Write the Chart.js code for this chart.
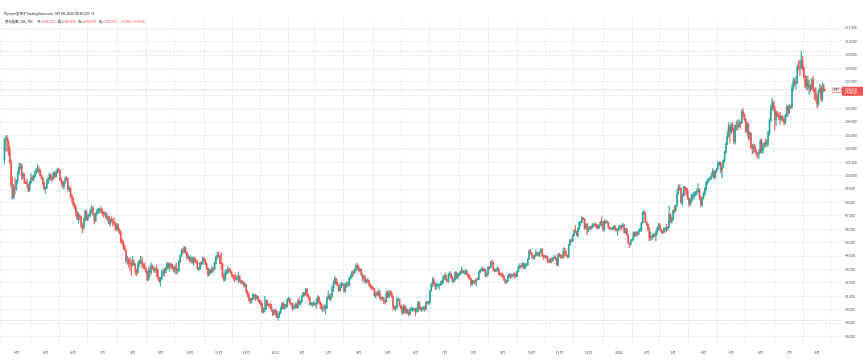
<!DOCTYPE html>
<html>
<head>
<meta charset="utf-8">
<script src="https://cdn.jsdelivr.net/npm/chart.js@4.4.1/dist/chart.umd.min.js"></script>
<style>
  html, body { margin: 0; padding: 0; background: #ffffff; }
  #wrap { position: relative; width: 863px; height: 360px; }
  canvas { display: block; }
</style>
</head>
<body>
<div id="wrap"><canvas id="c" width="863" height="360"></canvas></div>
<script>
// ---------------- DATA (US Dollar Index, daily) ----------------
const firstDay = '2020-03-19';
const lastDay = '2022-08-09';
const holidays = ['2020-12-25', '2021-01-01'];
const firstOpen = 101.20;

const closes = [
  // 2020-03
  102.75,102.82,102.50,101.95,101.04,99.35,98.38,99.06,99.05,
  // 2020-04
  99.62,100.20,100.62,100.80,99.96,100.10,99.55,99.50,99.36,98.87,99.48,99.80,99.74,99.92,100.25,100.40,100.48,100.38,100.00,99.84,99.45,99.02,
  // 2020-05
  99.07,99.48,99.76,100.08,99.77,99.74,100.23,99.92,100.23,100.43,100.40,99.68,99.57,99.17,99.48,99.80,99.76,98.95,99.05,98.38,98.34,
  // 2020-06
  97.87,97.68,97.28,96.74,96.94,96.93,96.27,96.09,96.71,97.33,96.72,97.04,97.07,97.39,97.60,97.11,96.64,97.17,97.39,97.43,97.51,97.40,
  // 2020-07
  97.18,97.17,97.21,96.83,96.93,96.44,96.76,96.65,96.48,96.46,95.99,96.32,95.92,95.78,95.10,94.99,94.70,94.44,93.66,93.70,93.43,93.41,93.34,
  // 2020-08
  93.54,93.38,92.87,92.78,93.42,93.64,93.64,93.43,93.37,93.10,92.87,92.25,92.86,92.79,93.25,93.14,92.95,93.01,92.99,92.37,92.14,
  // 2020-09
  92.30,92.72,92.85,92.80,93.08,93.43,93.23,93.37,93.33,93.06,93.04,93.20,92.91,92.94,93.61,94.05,94.41,94.35,94.64,94.29,93.87,93.89,
  // 2020-10
  93.71,93.85,93.51,93.85,93.61,93.58,93.06,93.06,93.52,93.41,93.86,93.69,93.41,93.07,92.60,92.95,92.78,93.05,93.04,93.43,93.92,94.04,
  // 2020-11
  94.03,93.50,93.43,92.52,92.23,92.73,92.75,93.00,92.97,92.76,92.56,92.43,92.31,92.30,92.39,92.50,92.17,92.01,92.05,91.80,91.87,
  // 2020-12
  91.33,91.14,90.71,90.70,90.79,91.09,91.09,90.84,90.97,90.71,90.53,90.48,89.85,90.02,90.05,90.68,90.39,90.34,90.33,89.96,89.67,89.94,
  // 2021-01
  89.88,89.43,89.53,89.83,90.10,90.47,90.11,90.35,90.23,90.77,90.79,90.50,90.48,90.09,90.23,90.37,90.16,90.63,90.44,90.58,
  // 2021-02
  91.03,91.24,91.13,91.53,91.04,90.93,90.41,90.43,90.43,90.48,90.37,90.48,90.94,90.59,90.36,90.12,90.15,90.14,90.14,90.88,
  // 2021-03
  91.02,90.82,90.97,91.64,91.98,92.34,91.95,91.82,91.42,91.67,91.84,91.88,91.40,91.89,91.92,91.85,92.37,92.52,92.80,92.76,92.93,93.29,93.23,
  // 2021-04
  92.93,93.03,92.62,92.33,92.46,92.05,92.16,92.14,91.85,91.70,91.66,91.56,91.07,91.24,91.15,91.32,90.86,90.83,90.89,90.63,90.59,91.28,
  // 2021-05
  90.96,91.28,91.27,90.99,90.22,90.10,90.16,90.70,90.76,90.31,90.15,89.83,90.28,89.79,90.01,89.80,89.66,90.00,90.01,90.03,90.03,
  // 2021-06
  89.89,89.91,90.51,90.14,90.00,90.08,90.10,90.07,90.55,90.53,90.54,91.40,91.91,92.23,91.89,91.75,91.81,91.82,91.85,91.89,92.06,92.44,
  // 2021-07
  92.57,92.23,92.17,92.56,92.67,92.42,92.12,92.24,92.77,92.42,92.65,92.68,92.83,92.92,92.78,92.80,92.89,92.64,92.46,92.30,91.88,92.17,
  // 2021-08
  92.07,92.04,92.28,92.26,92.79,92.94,93.05,92.92,92.99,92.52,92.62,93.16,93.14,93.58,93.49,92.95,92.87,92.98,93.06,92.67,92.64,92.63,
  // 2021-09
  92.50,92.24,92.03,92.15,92.52,92.64,92.49,92.58,92.64,92.63,92.50,92.86,93.19,93.26,93.21,93.47,93.08,93.33,93.36,93.78,94.37,94.23,
  // 2021-10
  94.04,93.83,94.00,94.20,94.21,94.08,94.31,94.52,94.05,93.95,93.96,93.95,93.58,93.56,93.75,93.64,93.86,93.93,93.80,93.33,94.12,
  // 2021-11
  94.06,93.91,93.87,94.35,94.32,94.05,93.96,94.84,95.17,95.13,95.53,95.89,95.83,95.54,96.04,96.48,96.52,96.86,96.77,96.09,96.36,95.99,
  // 2021-12
  96.03,96.18,96.14,96.28,96.36,96.33,96.24,96.10,96.32,96.56,96.54,96.00,96.61,96.53,96.53,96.10,96.06,96.00,96.07,96.20,95.96,95.94,95.97,
  // 2022-01
  96.21,96.26,96.17,96.32,95.74,95.99,95.60,94.96,94.85,95.17,95.26,95.75,95.53,95.78,95.64,95.92,95.92,96.48,97.25,97.27,96.54,
  // 2022-02
  96.37,96.03,95.38,95.48,95.44,95.63,95.51,95.81,96.07,96.32,96.02,95.83,95.79,96.04,96.05,96.02,96.18,97.09,96.61,96.71,
  // 2022-03
  97.41,97.38,97.78,98.67,99.07,99.05,97.98,98.51,99.13,99.02,98.87,98.32,97.89,98.23,98.48,98.48,98.64,98.79,98.81,98.98,98.40,97.83,98.31,
  // 2022-04
  98.62,99.01,99.47,99.63,99.77,99.83,99.94,100.30,99.87,100.34,100.50,100.95,101.01,100.40,100.63,101.12,101.75,102.34,102.97,103.63,103.21,
  // 2022-05
  103.76,103.45,102.55,103.75,103.66,103.66,103.92,103.91,104.76,104.56,104.20,103.29,103.84,102.86,103.15,102.08,102.06,102.17,101.82,101.67,101.62,101.76,
  // 2022-06
  102.59,101.86,102.15,102.41,102.33,102.56,103.25,104.15,105.06,105.51,105.02,104.18,104.67,104.52,104.43,104.19,104.40,104.21,103.94,104.50,105.10,104.69,
  // 2022-07
  105.14,105.11,106.51,107.04,106.87,106.91,108.08,108.07,108.03,108.58,108.08,107.37,106.69,107.09,106.62,106.73,106.48,107.17,106.44,106.25,105.91,
  // 2022-08
  105.36,106.23,106.51,105.70,106.61,106.377,106.372
];

const highs = [
  102.76,102.99,102.99,102.70,102.20,101.20,99.90,99.35,99.80,
  99.70,100.35,100.93,100.94,100.84,100.25,100.16,99.62,99.72,99.40,99.58,100.16,100.01,100.07,100.39,100.56,100.83,100.66,100.50,100.08,99.87,99.55,
  99.18,99.73,99.90,100.20,100.12,99.95,100.28,100.29,100.38,100.56,100.55,100.44,99.80,99.61,99.55,99.92,99.93,99.83,99.25,99.10,98.60,
  98.38,98.01,97.73,97.35,97.21,97.13,96.98,96.44,96.88,97.45,97.43,97.09,97.18,97.49,97.80,97.65,97.18,97.24,97.50,97.61,97.58,97.70,
  97.55,97.33,97.32,97.26,97.06,96.97,96.79,96.94,96.78,96.87,96.51,96.43,96.43,96.08,95.90,95.32,95.15,94.83,94.47,94.00,93.86,93.91,93.73,
  93.99,93.72,93.45,93.02,93.57,93.71,93.99,93.90,93.50,93.50,93.14,92.91,93.14,93.18,93.50,93.35,93.17,93.12,93.33,93.01,92.48,
  92.43,92.95,93.04,93.10,93.20,93.54,93.51,93.45,93.49,93.40,93.20,93.30,93.48,93.05,93.68,94.11,94.54,94.58,94.74,94.64,94.30,94.15,
  93.95,94.04,93.93,93.94,93.91,93.76,93.66,93.17,93.56,93.57,93.94,93.90,93.78,93.50,93.09,93.05,93.02,93.26,93.15,93.59,94.04,94.30,
  94.30,94.05,94.30,93.48,92.70,92.95,93.00,93.21,93.10,93.03,92.87,92.63,92.60,92.69,92.51,92.80,92.56,92.24,92.18,92.10,92.00,
  91.92,91.45,91.20,90.85,90.90,91.20,91.16,91.14,91.08,91.02,90.75,90.72,90.52,90.17,91.01,90.74,90.73,90.43,90.50,90.40,90.00,90.02,
  90.05,89.94,89.69,89.89,90.22,90.51,90.59,90.41,90.43,90.82,90.95,90.81,90.56,90.48,90.28,90.49,90.47,90.77,90.89,90.69,
  91.08,91.31,91.28,91.60,91.60,91.18,90.95,90.57,90.52,90.60,90.51,90.83,91.05,90.98,90.62,90.45,90.23,90.39,90.35,90.94,
  91.40,91.15,91.23,91.78,92.17,92.51,92.32,92.14,91.84,91.97,92.05,92.01,91.95,91.95,92.06,92.11,92.43,92.60,92.87,92.96,93.07,93.44,93.44,
  93.28,93.07,93.03,92.68,92.55,92.56,92.27,92.34,92.20,91.92,91.81,91.69,91.58,91.30,91.38,91.45,91.44,91.06,90.96,90.92,90.72,91.35,
  91.43,91.43,91.44,91.35,91.08,90.28,90.31,90.90,90.91,90.80,90.34,90.21,90.39,90.32,90.19,90.04,89.99,90.14,90.19,90.16,90.07,
  90.13,90.18,90.63,90.62,90.23,90.16,90.26,90.28,90.60,90.64,90.64,91.44,91.95,92.41,92.37,92.04,91.99,91.92,91.93,92.13,92.21,92.47,
  92.61,92.74,92.29,92.73,92.84,92.76,92.49,92.33,92.84,92.83,92.70,92.78,92.90,93.19,92.95,92.91,93.05,92.91,92.70,92.62,92.35,92.21,
  92.22,92.16,92.31,92.40,92.88,93.02,93.13,93.19,93.08,93.03,92.78,93.20,93.25,93.60,93.73,93.56,93.05,93.05,93.22,93.10,92.80,92.72,
  92.76,92.53,92.28,92.21,92.57,92.71,92.68,92.64,92.70,92.78,92.73,92.90,93.30,93.44,93.33,93.53,93.47,93.46,93.45,93.81,94.45,94.51,
  94.30,94.08,94.08,94.45,94.31,94.28,94.34,94.56,94.54,94.10,94.04,94.07,93.97,93.75,93.86,93.87,93.91,94.04,94.05,93.85,94.18,
  94.21,94.13,94.09,94.60,94.62,94.38,94.09,94.87,95.26,95.27,95.60,95.99,96.27,95.85,96.14,96.57,96.60,96.94,96.84,96.80,96.43,96.46,
  96.17,96.24,96.26,96.44,96.42,96.48,96.41,96.35,96.35,96.60,96.91,96.55,96.70,96.64,96.65,96.53,96.21,96.10,96.17,96.28,96.30,96.10,96.08,
  96.26,96.33,96.30,96.45,96.36,96.08,96.08,95.62,95.00,95.24,95.29,95.82,95.80,95.84,95.81,96.00,96.12,96.52,97.32,97.44,97.19,
  96.64,96.42,96.18,95.81,95.55,95.71,95.66,95.89,96.17,96.44,96.42,96.04,95.91,96.12,96.13,96.37,96.21,97.74,97.19,96.93,
  97.44,97.73,97.81,98.92,99.34,99.29,99.10,98.68,99.23,99.20,99.12,99.05,98.38,98.30,98.61,98.70,98.79,98.82,99.04,99.41,99.00,98.47,98.38,
  98.79,99.12,99.55,99.76,99.79,99.91,100.19,100.52,100.40,100.42,100.56,101.04,101.03,101.00,100.87,101.18,101.86,102.48,103.29,103.93,103.81,
  103.94,103.94,103.55,103.80,104.07,104.19,104.17,104.06,104.92,105.01,104.64,104.25,104.04,103.95,103.30,103.20,102.34,102.37,102.36,101.97,101.75,101.96,
  102.74,102.73,102.34,102.49,102.75,102.68,103.33,104.24,105.29,105.79,105.51,105.20,104.81,104.82,104.67,104.72,104.50,104.47,104.28,104.60,105.29,105.25,
  105.34,105.22,106.79,107.27,107.27,107.37,108.27,108.56,108.60,109.29,108.91,108.12,107.50,107.41,107.44,107.16,106.78,107.25,107.43,106.49,106.58,
  106.10,106.41,106.81,106.72,106.93,106.81,106.408
];

const lows = [
  100.90,101.87,101.80,101.50,100.90,99.10,98.27,98.30,98.60,
  98.88,99.43,100.10,100.45,99.70,99.77,99.40,99.40,99.13,98.80,98.85,99.36,99.60,99.60,99.85,100.10,100.25,100.15,99.96,99.71,99.33,98.95,
  98.68,99.05,99.39,99.69,99.62,99.58,99.72,99.83,99.89,100.15,100.26,99.60,99.35,99.10,98.98,99.43,99.64,98.89,98.81,98.34,98.00,
  97.70,97.50,96.97,96.72,96.46,96.69,96.11,95.72,96.00,96.55,96.66,96.62,96.85,96.96,97.23,97.06,96.39,96.57,97.06,97.19,97.21,97.23,
  97.05,96.89,97.00,96.75,96.60,96.39,96.23,96.54,96.24,96.31,95.92,95.91,95.86,95.64,95.02,94.85,94.49,94.40,93.49,93.39,93.17,92.90,92.54,
  93.24,93.31,92.60,92.52,92.70,93.20,93.45,93.13,93.04,93.01,92.72,92.13,92.18,92.45,92.64,93.01,92.81,92.76,92.49,92.28,92.04,
  91.75,92.23,92.52,92.50,92.75,92.97,93.06,92.88,93.12,93.01,92.82,92.70,92.64,92.71,92.85,93.50,93.96,94.18,94.23,94.18,93.77,93.76,
  93.56,93.57,93.45,93.30,93.54,93.44,92.99,92.91,93.00,93.32,93.40,93.60,93.35,92.98,92.47,92.57,92.73,92.74,92.85,92.97,93.38,93.77,
  93.90,93.42,93.02,92.38,92.13,92.13,92.59,92.72,92.84,92.72,92.45,92.28,92.09,92.19,92.21,92.00,92.05,91.91,91.94,91.72,91.70,
  91.20,90.96,90.60,90.47,90.49,90.74,90.80,90.68,90.78,90.58,90.42,90.25,89.72,89.74,89.82,90.03,90.30,90.18,90.09,89.89,89.53,89.66,
  89.62,89.41,89.21,89.42,89.71,89.99,90.06,90.04,90.12,90.20,90.62,90.41,90.27,89.95,90.04,90.09,90.12,90.10,90.37,90.33,
  90.53,90.94,91.01,91.09,90.96,90.76,90.36,90.33,90.22,90.32,90.29,90.12,90.41,90.49,90.08,89.97,89.86,89.92,89.68,90.08,
  90.82,90.71,90.67,90.95,91.36,91.92,91.83,91.77,91.33,91.39,91.62,91.79,91.30,91.30,91.64,91.72,91.79,92.26,92.37,92.53,92.69,92.87,92.98,
  92.80,92.85,92.53,92.14,92.14,91.99,91.98,92.04,91.76,91.59,91.48,91.54,90.99,90.85,91.03,91.01,90.81,90.67,90.73,90.44,90.42,90.54,
  90.90,90.88,91.08,90.91,89.98,89.98,89.92,90.09,90.64,90.25,90.05,89.65,89.69,89.75,89.70,89.70,89.53,89.63,89.92,89.86,89.93,
  89.53,89.80,89.86,90.03,89.95,89.86,89.99,89.87,90.01,90.39,90.42,90.40,91.38,91.73,91.83,91.50,91.53,91.69,91.51,91.80,91.88,91.98,
  92.28,92.18,92.05,92.02,92.46,92.32,92.06,91.99,92.17,92.32,92.28,92.51,92.58,92.71,92.71,92.62,92.63,92.57,92.33,92.26,91.78,91.86,
  91.97,91.90,91.78,92.21,92.24,92.74,92.91,92.86,92.88,92.47,92.45,92.59,92.99,93.11,93.35,92.91,92.83,92.85,92.87,92.58,92.58,92.45,
  92.39,92.17,91.94,91.99,92.08,92.40,92.33,92.37,92.48,92.35,92.43,92.45,92.80,93.08,93.10,93.16,93.05,93.07,93.20,93.31,93.73,94.14,
  93.86,93.81,93.76,93.97,94.03,94.00,93.96,94.23,93.93,93.75,93.85,93.84,93.53,93.50,93.50,93.49,93.63,93.79,93.71,93.27,93.26,
  93.93,93.83,93.82,93.87,94.02,93.98,93.87,93.86,94.82,95.02,95.08,95.49,95.73,95.53,95.41,95.94,96.27,96.50,96.68,96.00,96.08,95.59,
  95.81,95.96,95.97,96.08,96.20,96.20,96.04,96.03,96.06,96.28,96.21,95.85,95.90,96.41,96.44,96.08,95.99,95.98,95.94,96.03,95.89,95.86,95.54,
  95.90,96.04,95.92,96.13,95.72,95.71,95.57,94.93,94.63,94.83,95.11,95.20,95.45,95.48,95.54,95.62,95.83,95.85,96.43,97.10,96.49,
  96.25,95.90,95.14,95.17,95.21,95.33,95.46,95.14,95.59,95.90,95.96,95.72,95.66,95.72,95.78,95.80,95.89,96.11,96.49,96.43,
  96.65,97.18,97.34,97.71,98.60,98.88,97.92,97.76,98.43,98.62,98.52,98.25,97.71,97.74,97.98,98.15,98.27,98.46,98.56,98.74,98.19,97.69,97.69,
  98.25,98.52,98.85,99.35,99.50,99.68,99.73,99.90,99.76,99.81,100.27,100.46,100.76,100.21,99.81,100.61,100.97,101.65,102.31,102.86,102.50,
  103.11,103.29,102.41,102.35,103.39,103.42,103.60,103.53,103.89,104.37,104.08,103.23,103.14,102.67,102.68,102.00,101.64,101.67,101.76,101.43,101.30,101.30,
  101.65,101.71,101.64,102.07,102.18,102.13,102.26,103.01,104.03,104.86,104.88,103.41,103.75,104.36,104.18,103.82,104.11,104.04,103.77,103.86,104.37,104.43,
  104.64,104.97,105.01,106.34,106.67,106.45,106.91,107.88,107.46,107.95,107.84,107.27,106.52,106.42,106.37,106.05,106.23,106.43,106.29,105.67,105.54,
  105.04,105.19,106.16,105.56,105.53,106.22,106.324
];

// marked levels (dotted lines) and header texts
const rangeHigh = 109.29;
const rangeLow = 89.21;
const priceTicks = [88,89,90,91,92,93,94,95,96,97,98,99,100,101,102,103,104,105,106,107,108,109,110,111];
const headerLine1 = 'Plyryne发布于TradingView.com, 8月 09, 2022 09:16 UTC+8';
const symbolTitle = '美元指数, 1天, TVC';
const ohlcLabels = ['开=', '高=', '低=', '收='];
const ohlcValues = ['106.370', '106.408', '106.324', '106.372'];
const changeText = '−0.005 (−0.00%)';
const countdownText = '14:43:52';

// ---------------- BUILD ----------------
function tradingDays() {
  const out = [];
  const d = new Date(firstDay + 'T00:00:00Z');
  const end = new Date(lastDay + 'T00:00:00Z').getTime();
  while (d.getTime() <= end) {
    const wd = d.getUTCDay();
    const s = d.toISOString().slice(0, 10);
    if (wd !== 0 && wd !== 6 && !holidays.includes(s)) out.push(s);
    d.setUTCDate(d.getUTCDate() + 1);
  }
  return out;
}
const dates = tradingDays();
if (dates.length !== closes.length || highs.length !== closes.length || lows.length !== closes.length) {
  console.error('length mismatch', dates.length, closes.length, highs.length, lows.length);
}
const opens = closes.map((c, i) => i === 0 ? firstOpen : closes[i - 1]);
const UP = 'rgba(38,166,154,0.85)', DOWN_C = 'rgba(239,83,80,0.85)', DOWN = '#ef5350';
const colors = closes.map((c, i) => c >= opens[i] ? UP : DOWN_C);

const monthTicks = [];
const monthLabel = {};
for (let i = 1; i < dates.length; i++) {
  if (dates[i].slice(0, 7) !== dates[i - 1].slice(0, 7)) {
    const m = +dates[i].slice(5, 7);
    monthTicks.push(i);
    monthLabel[i] = m === 1 ? dates[i].slice(0, 4) : m + '月';
  }
}

const X_MIN = -3.4, X_MAX = 633.85;
const Y_MIN = 87.37, Y_MAX = 111.76;
const FONT = '"Noto Sans CJK SC", "Noto Sans", sans-serif';

const wickData = closes.map((c, i) => ({ x: i, y: [Math.min(lows[i], opens[i], c), Math.max(highs[i], opens[i], c)] }));
const bodyData = closes.map((c, i) => ({ x: i, y: [opens[i], c] }));

const overlay = {
  id: 'overlay',
  afterDraw(chart) {
    const ctx = chart.ctx;
    const ys = chart.scales.y;
    const ca = chart.chartArea;
    ctx.save();
    ctx.textBaseline = 'middle';
    ctx.textAlign = 'left';
    ctx.font = '3.4px ' + FONT;
    ctx.fillStyle = '#131722';
    ctx.fillText(headerLine1, 4, 13.6);
    let x = 5;
    const y2 = 21.8;
    ctx.fillStyle = '#131722';
    ctx.fillText(symbolTitle, x, y2);
    x += ctx.measureText(symbolTitle).width + 4;
    for (let k = 0; k < 4; k++) {
      ctx.fillStyle = '#131722';
      ctx.fillText(ohlcLabels[k], x, y2);
      x += ctx.measureText(ohlcLabels[k]).width;
      ctx.fillStyle = DOWN;
      ctx.fillText(ohlcValues[k], x, y2);
      x += ctx.measureText(ohlcValues[k]).width + 3;
    }
    ctx.fillStyle = DOWN;
    ctx.fillText(changeText, x + 1, y2);
    const last = closes[closes.length - 1];
    const py = ys.getPixelForValue(last);
    ctx.fillStyle = DOWN;
    ctx.fillRect(ca.right, py - 3.5, 21, 9);
    ctx.fillStyle = '#ffffff';
    ctx.font = '3.3px ' + FONT;
    ctx.fillText(last.toFixed(3), ca.right + 3, py - 0.5);
    ctx.font = '3px ' + FONT;
    ctx.fillText(countdownText, ca.right + 3, py + 3);
    ctx.fillStyle = '#ffffff';
    ctx.strokeStyle = DOWN;
    ctx.lineWidth = 0.6;
    ctx.fillRect(ca.right - 9, py - 2.2, 8.5, 4.4);
    ctx.strokeRect(ca.right - 9, py - 2.2, 8.5, 4.4);
    ctx.fillStyle = '#131722';
    ctx.font = '2.8px ' + FONT;
    ctx.fillText('DXY', ca.right - 8, py);
    ctx.restore();
  }
};

new Chart(document.getElementById('c'), {
  type: 'bar',
  data: {
    datasets: [
      { label: 'body', data: bodyData, backgroundColor: colors, barThickness: 1.05, minBarLength: 0.8, grouped: false, order: 0 },
      { label: 'wick', data: wickData, backgroundColor: colors, barThickness: 0.6, grouped: false, order: 1 },
      { type: 'line', label: 'price', data: [{ x: X_MIN, y: closes[closes.length - 1] }, { x: X_MAX, y: closes[closes.length - 1] }],
        borderColor: 'rgba(239,83,80,0.55)', borderWidth: 0.8, borderDash: [1, 1.2], pointRadius: 0, order: 2 },
      { type: 'line', label: 'high', data: [{ x: X_MIN, y: rangeHigh }, { x: X_MAX, y: rangeHigh }],
        borderColor: 'rgba(120,123,134,0.45)', borderWidth: 0.8, borderDash: [1, 1.2], pointRadius: 0, order: 2 },
      { type: 'line', label: 'low', data: [{ x: X_MIN, y: rangeLow }, { x: X_MAX, y: rangeLow }],
        borderColor: 'rgba(120,123,134,0.45)', borderWidth: 0.8, borderDash: [1, 1.2], pointRadius: 0, order: 2 }
    ]
  },
  options: {
    responsive: false,
    animation: false,
    devicePixelRatio: 1,
    layout: { padding: { top: 18, left: 0, right: 0, bottom: 0 } },
    plugins: { legend: { display: false }, tooltip: { enabled: false }, title: { display: false } },
    scales: {
      x: {
        type: 'linear',
        min: X_MIN, max: X_MAX,
        offset: false,
        afterBuildTicks: (s) => { s.ticks = monthTicks.map(v => ({ value: v })); },
        afterFit: (s) => { s.height = 15; },
        ticks: {
          autoSkip: false, maxRotation: 0, padding: 5.5,
          font: { size: 3.4, family: FONT }, color: '#50535e',
          callback: (v) => monthLabel[v] || ''
        },
        grid: { color: '#f0f2f6', lineWidth: 1, drawTicks: false },
        border: { display: false }
      },
      y: {
        position: 'right',
        min: Y_MIN, max: Y_MAX,
        afterBuildTicks: (s) => { s.ticks = priceTicks.map(v => ({ value: v })); },
        afterFit: (s) => { s.width = 21; },
        ticks: {
          padding: 3, crossAlign: 'near',
          font: { size: 3.3, family: FONT }, color: '#50535e',
          callback: (v) => Number(v).toFixed(3)
        },
        grid: { color: '#f0f2f6', lineWidth: 1, drawTicks: false },
        border: { display: false }
      }
    }
  },
  plugins: [overlay]
});
</script>
</body>
</html>
